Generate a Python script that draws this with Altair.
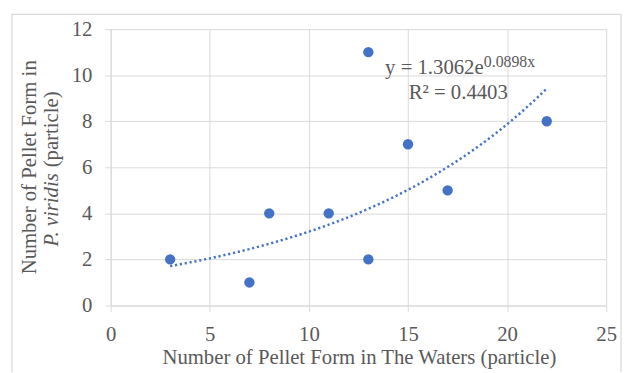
import altair as alt
import pandas as pd

# ---- data ----
X_WATERS = [3, 7, 8, 11, 13, 13, 15, 17, 22]
Y_VIRIDIS = [2, 1, 4, 4, 11, 2, 7, 5, 8]
X_TICKS = [0, 5, 10, 15, 20, 25]
Y_TICKS = [0, 2, 4, 6, 8, 10, 12]
TREND_A = 1.3062
TREND_B = 0.0898
TREND_RANGE = [3, 22]
EQ_MAIN = "y = 1.3062e"
EQ_EXP = "0.0898x"
EQ_R2 = "R² = 0.4403"
X_TITLE = "Number of Pellet Form in The Waters (particle)"
Y_TITLE_1 = "Number of Pellet Form in"
Y_TITLE_2_ITALIC = "P. viridis"
Y_TITLE_2_REST = "(particle)"

FONT = "Liberation Serif"
TXT = "#595959"
BLUE = "#4472C4"
GRID = "#D9D9D9"
W, H = 502, 280

df = pd.DataFrame({"x": X_WATERS, "y": Y_VIRIDIS})

xs = alt.Scale(domain=[0, 25], nice=False, zero=False)
ys = alt.Scale(domain=[0, 12], nice=False, zero=False)

x_axis = alt.Axis(values=X_TICKS, format="d", title=None, grid=True,
                  labelPadding=12, tickSize=6, labelFlush=False, labelOverlap=False)
y_axis = alt.Axis(values=Y_TICKS, format="d", title=None, grid=True,
                  labelPadding=13, tickSize=6, labelFlush=False, labelOverlap=False)

points = alt.Chart(df).mark_circle(size=110, color=BLUE, opacity=1).encode(
    x=alt.X("x:Q", scale=xs, axis=x_axis),
    y=alt.Y("y:Q", scale=ys, axis=y_axis),
)

trend = alt.Chart(alt.sequence(TREND_RANGE[0], TREND_RANGE[1] + 0.1, 0.25, as_="x")).transform_calculate(
    y=f"{TREND_A} * exp({TREND_B} * datum.x)"
).mark_line(color=BLUE, strokeWidth=2.5, strokeDash=[2.2, 2.8], strokeCap="butt").encode(
    x=alt.X("x:Q", scale=xs),
    y=alt.Y("y:Q", scale=ys),
)

one = pd.DataFrame({"k": [0]})


def label(text, px, py, size=21, align="left", baseline="alphabetic", angle=0, style="normal"):
    kw = dict(text=text, font=FONT, fontSize=size, color=TXT, align=align,
              baseline=baseline, fontStyle=style)
    if angle:
        kw["angle"] = angle
    return alt.Chart(one).mark_text(**kw).encode(x=alt.value(px), y=alt.value(py))


texts = [
    label(EQ_MAIN, 278, 45),
    label(EQ_EXP, 378, 38, size=16),
    label(EQ_R2, 302, 71),
    label(X_TITLE, 252, 339, align="center"),
    label(Y_TITLE_1, -82, 140, align="center", baseline="middle", angle=270),
    label(Y_TITLE_2_ITALIC, -59, 146, align="right", baseline="middle", angle=270, style="italic"),
    label(Y_TITLE_2_REST, -59, 140, align="left", baseline="middle", angle=270),
]

BORDER = "#CFCFCF"
border = [
    alt.Chart(one).mark_rule(color=BORDER, strokeWidth=1).encode(
        x=alt.value(-100), y=alt.value(-15), y2=alt.value(360)),
    alt.Chart(one).mark_rule(color=BORDER, strokeWidth=1).encode(
        x=alt.value(-100), x2=alt.value(517), y=alt.value(-15)),
    alt.Chart(one).mark_rule(color=BORDER, strokeWidth=1).encode(
        x=alt.value(517), y=alt.value(-15), y2=alt.value(360)),
]

chart = alt.layer(*border, trend, points, *texts).properties(
    width=W, height=H,
    autosize=alt.AutoSizeParams(type="none"),
    padding={"left": 104, "top": 19, "right": 17, "bottom": 65},
    background="white",
).configure_view(strokeWidth=0).configure_axis(
    domainColor=GRID, tickColor=GRID, gridColor=GRID, gridWidth=1,
    labelFont=FONT, labelFontSize=21, labelColor=TXT,
)

chart.save("out.html", embed_options={"renderer": "svg", "actions": False})
